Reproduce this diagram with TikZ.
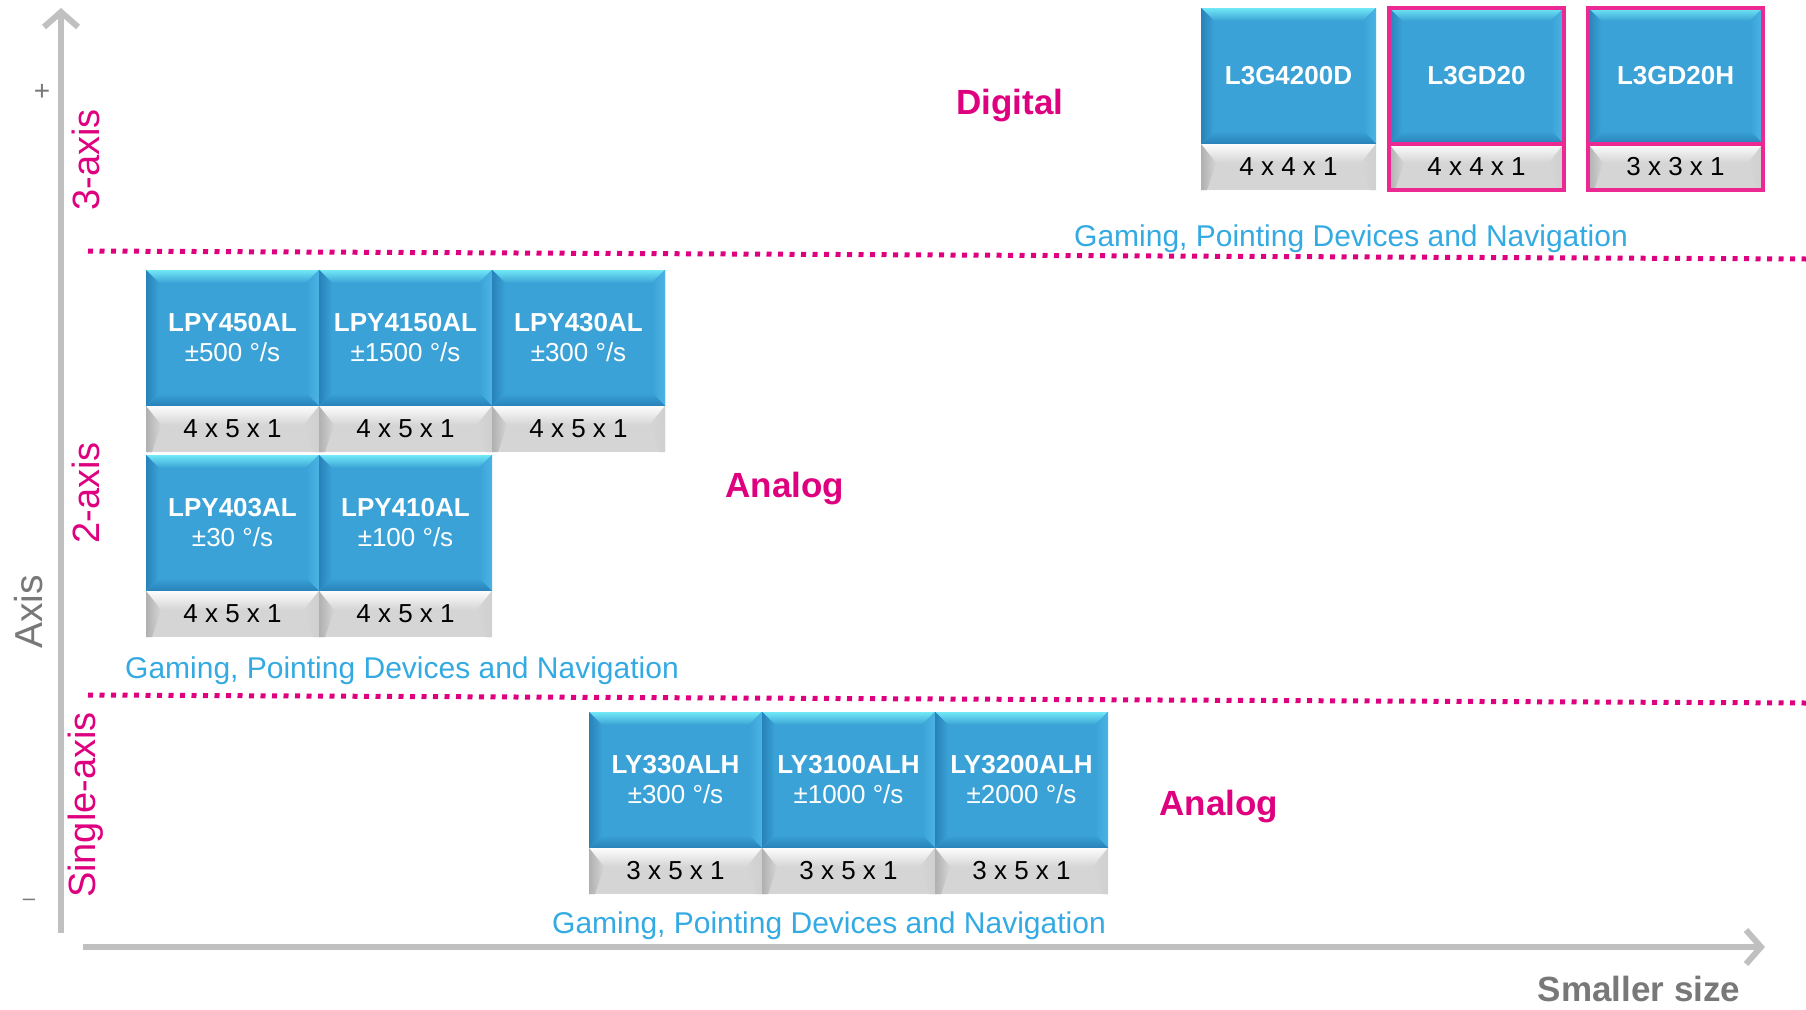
\documentclass[tikz,border=0pt]{standalone}
\usepackage{fontspec}
\setmainfont{Liberation Sans}
\usetikzlibrary{positioning,arrows.meta}

\definecolor{chipblue}{RGB}{58,162,214}
\definecolor{chiphigh}{RGB}{112,232,246}
\definecolor{chipdark}{RGB}{40,130,186}
\definecolor{chipside}{RGB}{76,180,228}
\definecolor{chipgray}{RGB}{213,213,213}
\definecolor{grayhigh}{RGB}{252,252,252}
\definecolor{graydark}{RGB}{176,176,176}
\definecolor{stmagenta}{RGB}{222,0,126}
\definecolor{stpink}{RGB}{236,40,146}
\definecolor{stcyan}{RGB}{52,170,226}
\definecolor{axisgray}{RGB}{192,192,192}
\definecolor{textgray}{RGB}{120,120,120}

\tikzset{
  chiptop/.style={rectangle,anchor=north west,inner sep=0pt,outer sep=0pt,minimum width=173pt,minimum height=136pt,
    fill=chipblue,text=white,align=center,font=\fontsize{26}{30}\selectfont,
    path picture={
      \coordinate (pa) at (path picture bounding box.north west);
      \coordinate (pb) at (path picture bounding box.north east);
      \coordinate (pc) at (path picture bounding box.south east);
      \coordinate (pd) at (path picture bounding box.south west);
      \fill[top color=chiphigh,bottom color=chipblue] (pa) -- (pb) -- ([shift={(-13pt,-13pt)}]pb) -- ([shift={(13pt,-13pt)}]pa) -- cycle;
      \fill[left color=chipdark,right color=chipblue] (pa) -- ([shift={(13pt,-13pt)}]pa) -- ([shift={(13pt,13pt)}]pd) -- (pd) -- cycle;
      \fill[right color=chipside,left color=chipblue] (pb) -- ([shift={(-13pt,-13pt)}]pb) -- ([shift={(-13pt,13pt)}]pc) -- (pc) -- cycle;
      \fill[bottom color=chipdark,top color=chipblue] (pd) -- ([shift={(13pt,13pt)}]pd) -- ([shift={(-13pt,13pt)}]pc) -- (pc) -- cycle;
    }},
  chipsize/.style={rectangle,inner sep=0pt,outer sep=0pt,minimum width=173pt,minimum height=46pt,
    fill=chipgray,text=black,font=\fontsize{26}{30}\selectfont,
    path picture={
      \coordinate (pa) at (path picture bounding box.north west);
      \coordinate (pb) at (path picture bounding box.north east);
      \coordinate (pc) at (path picture bounding box.south east);
      \coordinate (pd) at (path picture bounding box.south west);
      \fill[top color=grayhigh,bottom color=chipgray] (pa) -- (pb) -- ([shift={(-15pt,-19pt)}]pb) -- ([shift={(15pt,-19pt)}]pa) -- cycle;
      \fill[left color=graydark,right color=chipgray] (pa) -- ([shift={(15pt,-19pt)}]pa) -- ([shift={(6pt,0pt)}]pd) -- (pd) -- cycle;
      \fill[right color=graydark!60,left color=chipgray] (pb) -- ([shift={(-15pt,-19pt)}]pb) -- ([shift={(-6pt,0pt)}]pc) -- (pc) -- cycle;
    }},
  pinkrim/.style={draw=stpink,line width=3.5pt},
  market/.style={text=stcyan,font=\fontsize{30}{34}\selectfont},
  family/.style={text=stmagenta,font=\bfseries\fontsize{35}{40}\selectfont},
  axislabel/.style={text=stmagenta,rotate=90,font=\fontsize{38}{42}\selectfont},
  divider/.style={stmagenta,line width=5pt,dash pattern=on 5pt off 6.5pt},
  axisline/.style={axisgray,line width=6pt,-{Straight Barb[length=15pt,width=34pt]}},
}

\begin{document}
\begin{tikzpicture}[x=1pt,y=-1pt]
    \useasboundingbox (0,0) rectangle (1806,1009);

    % axes
    \coordinate (ytail) at (61,933);
    \coordinate (yhead) at (61,8);
    \coordinate (xtail) at (83,947);
    \coordinate (xhead) at (1765,947);
    \draw[axisline] (ytail) -- (yhead);
    \draw[axisline] (xtail) -- (xhead);
    \node[text=textgray,font=\fontsize{28}{30}\selectfont] (plus) at (42,92) {+};
    \node[text=textgray,font=\fontsize{22}{24}\selectfont] (minus) at (29,902) {–};
    \node[rotate=90,text=textgray,font=\fontsize{39}{44}\selectfont] (axistitle) at (29,612) {Axis};
    \node[text=textgray,font=\bfseries\fontsize{35}{40}\selectfont] (sizetitle) at (1639,989) {Smaller size};

    % rows
    \node[axislabel] (threeaxis) at (86,160) {3-axis};
    \node[axislabel] (twoaxis) at (86,493) {2-axis};
    \node[axislabel] (oneaxis) at (86,805) {Single-axis};
    \coordinate (topdivL) at (88,251);
    \coordinate (topdivR) at (1806,259);
    \coordinate (lowdivL) at (88,695);
    \coordinate (lowdivR) at (1806,703);
    \draw[divider] (topdivL) -- (topdivR);
    \draw[divider] (lowdivL) -- (lowdivR);

    % 3-axis, digital
    \node[chiptop,minimum width=175pt] (l3g4200d) at (1201,8) {\textbf{L3G4200D}};
    \node[chipsize,minimum width=175pt,below=0pt of l3g4200d] (l3g4200d-s) {4 x 4 x 1};
    \node[chiptop,pinkrim,minimum width=175pt] (l3gd20) at (1389,8) {\textbf{L3GD20}};
    \node[chipsize,pinkrim,minimum width=175pt,below=0pt of l3gd20] (l3gd20-s) {4 x 4 x 1};
    \node[chiptop,pinkrim,minimum width=175pt] (l3gd20h) at (1588,8) {\textbf{L3GD20H}};
    \node[chipsize,pinkrim,minimum width=175pt,below=0pt of l3gd20h] (l3gd20h-s) {3 x 3 x 1};
    \node[family] (digital) at (1010,106) {Digital};
    \node[market] (topmarket) at (1351,239) {Gaming, Pointing Devices and Navigation};

    % 2-axis, analog
    \node[chiptop] (lpy450al) at (146,270) {\textbf{LPY450AL}\\±500 °/s};
    \node[chipsize,below=0pt of lpy450al] (lpy450al-s) {4 x 5 x 1};
    \node[chiptop,right=0pt of lpy450al] (lpy4150al) {\textbf{LPY4150AL}\\±1500 °/s};
    \node[chipsize,below=0pt of lpy4150al] (lpy4150al-s) {4 x 5 x 1};
    \node[chiptop,right=0pt of lpy4150al] (lpy430al) {\textbf{LPY430AL}\\±300 °/s};
    \node[chipsize,below=0pt of lpy430al] (lpy430al-s) {4 x 5 x 1};
    \node[chiptop] (lpy403al) at (146,455) {\textbf{LPY403AL}\\±30 °/s};
    \node[chipsize,below=0pt of lpy403al] (lpy403al-s) {4 x 5 x 1};
    \node[chiptop,right=0pt of lpy403al] (lpy410al) {\textbf{LPY410AL}\\±100 °/s};
    \node[chipsize,below=0pt of lpy410al] (lpy410al-s) {4 x 5 x 1};
    \node[family] (analogtwo) at (785,489) {Analog};
    \node[market] (midmarket) at (402,671) {Gaming, Pointing Devices and Navigation};

    % single-axis, analog
    \node[chiptop] (ly330alh) at (589,712) {\textbf{LY330ALH}\\±300 °/s};
    \node[chipsize,below=0pt of ly330alh] (ly330alh-s) {3 x 5 x 1};
    \node[chiptop,right=0pt of ly330alh] (ly3100alh) {\textbf{LY3100ALH}\\±1000 °/s};
    \node[chipsize,below=0pt of ly3100alh] (ly3100alh-s) {3 x 5 x 1};
    \node[chiptop,right=0pt of ly3100alh] (ly3200alh) {\textbf{LY3200ALH}\\±2000 °/s};
    \node[chipsize,below=0pt of ly3200alh] (ly3200alh-s) {3 x 5 x 1};
    \node[family] (analogone) at (1219,807) {Analog};
    \node[market] (lowmarket) at (829,926) {Gaming, Pointing Devices and Navigation};

\end{tikzpicture}
\end{document}
